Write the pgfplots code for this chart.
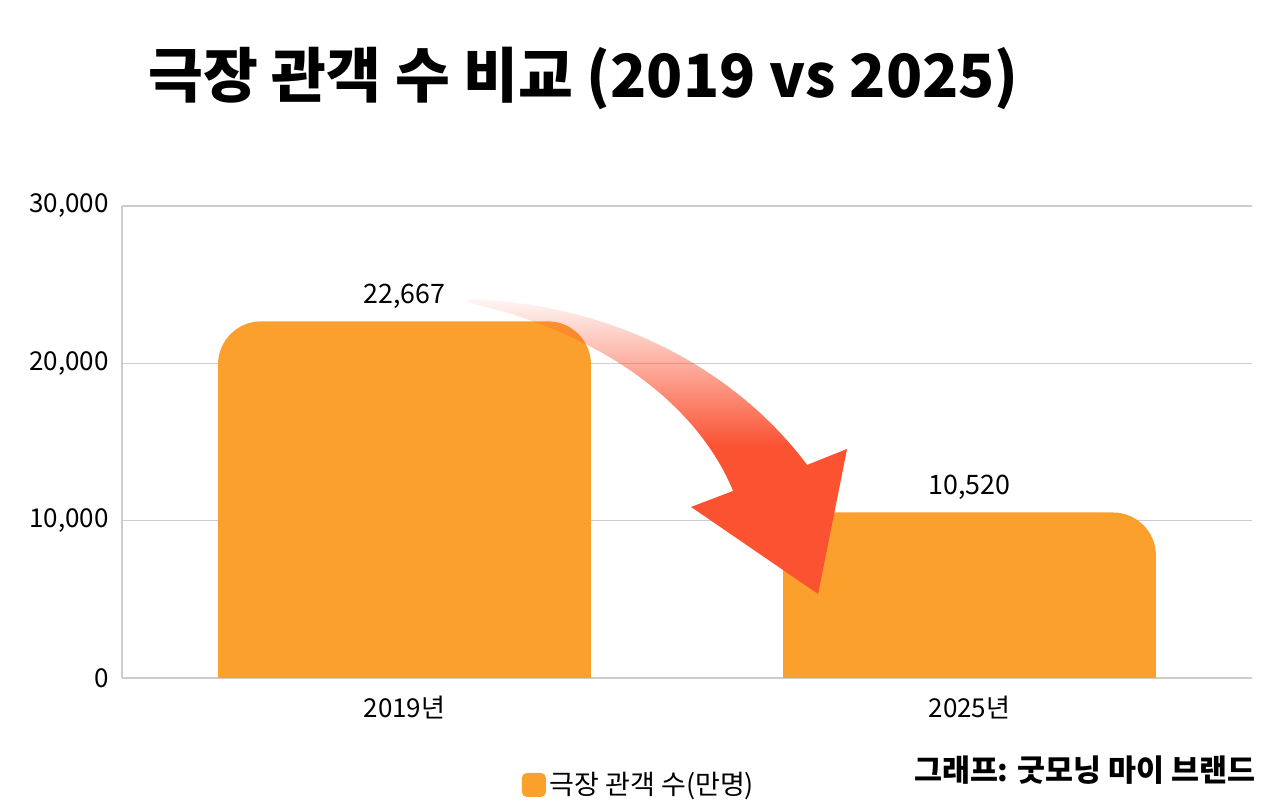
\documentclass[border=0pt]{standalone}
\usepackage{pgfplots}
\pgfplotsset{compat=1.18}
\usepackage{pgfplotstable}
\usepackage{fontspec}
\setmainfont{Noto Sans CJK KR}
\usetikzlibrary{fadings}
\definecolor{barorange}{HTML}{FBA02C}
\definecolor{arrowred}{HTML}{FB5232}
\definecolor{gridgray}{HTML}{CCCCCC}
\tikzfading[name=arrowfade, top color=transparent!95, bottom color=transparent!0, middle color=transparent!0]

\pgfplotstableread{
x v
0 22667
1 10520
}\datatable

\begin{document}
\begin{tikzpicture}
\begin{scope}[x=0.5pt,y=-0.5pt,shift={(-61pt,339pt)}]
\path[use as bounding box] (0,0) rectangle (1280,800);
\end{scope}
\begin{axis}[
  at={(0pt,0pt)}, anchor=south west,
  scale only axis, width=565pt, height=236pt,
  xmin=-0.5, xmax=1.5, ymin=0, ymax=30000,
  xtick={0,1}, xticklabels={2019년,2025년},
  ytick={0,10000,20000,30000},
  scaled y ticks=false,
  /pgf/number format/.cd, 1000 sep={,}, assume math mode=true, /pgfplots/.cd,
  axis x line*=bottom, axis y line*=left,
  axis line style={-, draw=gridgray, line width=0.6pt},
  ymajorgrids, grid style={draw=gridgray, line width=0.6pt},
  major tick length=0pt,
  tick label style={font=\fontsize{13}{16}\selectfont},
  yticklabel style={anchor=east, inner sep=0pt, xshift=-6.5pt},
  xticklabel style={anchor=center, inner sep=0pt, yshift=-15pt},
  ybar, bar width=0.66,
  legend style={at={(axis description cs:0.4584,-0.2266)}, anchor=center, draw=none, fill=none,
    font=\fontsize{13.5}{16}\selectfont, inner sep=0pt},
  legend image code/.code={\fill[barorange, rounded corners=2.5pt] (0pt,-6pt) rectangle (12pt,6pt);},
]
\addplot[fill=barorange, draw=none, bar shift=0pt, rounded corners=21.5pt,
  nodes near coords={\pgfmathprintnumber[1000 sep={,}]{\pgfplotspointmeta}},
  nodes near coords style={font=\fontsize{13.4}{16}\selectfont, anchor=center, inner sep=0pt, yshift=12.5pt, text=black}]
  table[x=x, y=v] {\datatable};
\addlegendentry{극장 관객 수(만명)}
\addplot[fill=barorange, draw=none, bar shift=0pt, forget plot]
  table[x=x, y expr=\thisrow{v}*0.5] {\datatable};
\end{axis}
\begin{scope}[x=0.5pt,y=-0.5pt,shift={(-61pt,339pt)}]
\fill[arrowred, path fading=arrowfade]
  (465,299) .. controls (620,303) and (740,375) .. (807,465)
  -- (847,449) -- (818,594) -- (691,507) -- (733,491)
  .. controls (700,410) and (610,335) .. (470,303) -- cycle;
\node[anchor=west, inner sep=0pt] at (148,78) {\bfseries\fontsize{29.8}{35}\selectfont 극장 관객 수 비교 (2019 vs 2025)};
\node[anchor=east, inner sep=0pt] at (1256,770) {\bfseries\fontsize{15.2}{18}\selectfont 그래프: 굿모닝 마이 브랜드};
\end{scope}
\end{tikzpicture}
\end{document}
